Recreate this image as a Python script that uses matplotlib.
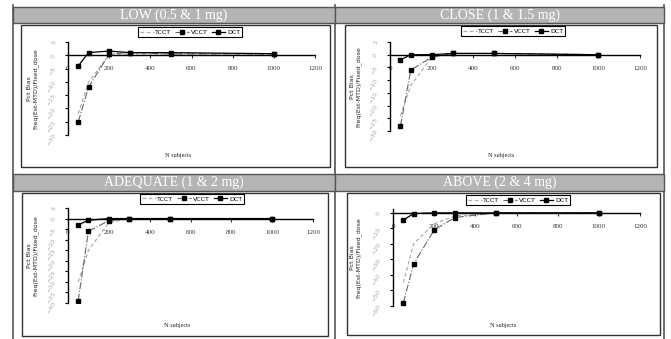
import matplotlib
matplotlib.use("Agg")
import matplotlib.pyplot as plt
from matplotlib.patches import Rectangle
from matplotlib.lines import Line2D

W, H = 671, 339

n_subjects = [50, 100, 200, 300, 500, 1000]
x_ticks = [0, 200, 400, 600, 800, 1000, 1200]

titles = ["LOW (0.5 & 1 mg)", "CLOSE (1 & 1.5 mg)",
          "ADEQUATE (1 & 2 mg)", "ABOVE (2 & 4 mg)"]

tcct = [
    [-22, -10, 0, 0.5, 0.5, 0.5],
    [-24, -12, -1, 0.5, 0.5, 0],
    [-30, -15, -2, 0, 0, 0],
    [-45, -20, -7, -2, 0, 0],
]
vcct = [
    [-25, -12, 0.5, 1, 0.5, 0.5],
    [-28, -6, -1, 0.5, 0.5, 0],
    [-39, -6, -1, 0, 0, 0],
    [-58, -33, -11, -3, 0, 0],
]
dct = [
    [-4, 1, 1.6, 1, 1, 0.6],
    [-2, 0, 0, 0.5, 0.5, 0],
    [-3, -0.8, 0, 0, 0, 0],
    [-4.7, -0.4, 0, 0, 0, 0],
]
y_limits = [(-30, 5), (-30, 5), (-40, 5), (-60, 2.5)]
y_steps = [5, 5, 5, 10]

# pixel boxes: header, chart frame, plot area, legend centre, ylabel x
header_box = [(13, 7, 335, 23), (335, 7, 664, 23), (13, 174, 335, 191), (335, 174, 664, 191)]
frame_box = [(21, 25, 330, 167), (345, 25, 657, 167), (22, 193, 328, 336), (347, 193, 660, 335)]
plot_box = [(68, 42, 315, 135), (390, 42, 640, 131), (68, 208, 313, 303), (393, 209, 640, 306)]
legend_pos = [(190, 32), (513, 31), (192, 199), (518, 200)]
ylabel_x = [33, 356, 33, 356]
xlabel_y = [155, 155, 325, 325]


def fig_rect(b):
    x0, y0, x1, y1 = b
    return [x0 / W, 1 - y1 / H, (x1 - x0) / W, (y1 - y0) / H]


fig = plt.figure(figsize=(W / 100, H / 100), dpi=100)
fig.patch.set_facecolor("white")

# table lines
for x in [13, 335, 664]:
    fig.add_artist(Line2D([x / W, x / W], [1 - 5 / H, 0], color="#555555", lw=1.2, zorder=-2))

for i in range(4):
    hb = header_box[i]
    fig.add_artist(Rectangle((hb[0] / W, 1 - hb[3] / H), (hb[2] - hb[0]) / W,
                             (hb[3] - hb[1]) / H, transform=fig.transFigure,
                             facecolor="#b4b4b4", edgecolor="#555555", lw=1, zorder=-1))
    fig.text((hb[0] + hb[2]) / 2 / W, 1 - (hb[1] + hb[3]) / 2 / H, titles[i],
             color="white", fontsize=10, family="Liberation Serif",
             ha="center", va="center")

    fb = frame_box[i]
    fig.add_artist(Rectangle((fb[0] / W, 1 - fb[3] / H), (fb[2] - fb[0]) / W,
                             (fb[3] - fb[1]) / H, transform=fig.transFigure,
                             facecolor="white", edgecolor="#333333", lw=1, zorder=-1))

    ax = fig.add_axes(fig_rect(plot_box[i]))
    ax.set_zorder(2)
    ax.set_facecolor("none")
    ax.plot(n_subjects, tcct[i], color="#b0b0a0", ls=(0, (3, 2)), lw=0.9, label="TCCT")
    ax.plot(n_subjects, vcct[i], color="#666666", ls="-.", lw=0.8, marker="s",
            ms=2.5, mfc="black", mec="black", label="VCCT")
    ax.plot(n_subjects, dct[i], color="black", ls="-", lw=0.9, marker="s",
            ms=2.5, label="DCT")
    ax.set_xlim(0, 1200)
    ax.set_ylim(*y_limits[i])
    ax.set_xticks(x_ticks)
    lo, hi = y_limits[i]
    st = y_steps[i]
    yt = list(range(int(lo), int(hi) + 1, st))
    ax.set_yticks(yt)
    ax.spines["top"].set_visible(False)
    ax.spines["right"].set_visible(False)
    ax.spines["bottom"].set_position(("data", 0))
    ax.spines["left"].set_position(("data", 0))
    ax.spines["bottom"].set_linewidth(1)
    ax.spines["left"].set_linewidth(1)
    ax.tick_params(axis="x", labelsize=5, length=2, pad=6, colors="#333333")
    ax.tick_params(axis="y", labelsize=4.5, length=2, pad=6, labelcolor="#aaaaaa",
                   labelrotation=60)
    for lab in ax.get_xticklabels():
        lab.set_family("Liberation Serif")

    h, l = ax.get_legend_handles_labels()
    lx, ly = legend_pos[i]
    leg = fig.legend(h, l, loc="center", bbox_to_anchor=(lx / W, 1 - ly / H), ncol=3,
                     fontsize=4.5, frameon=True, fancybox=False, edgecolor="black",
                     handlelength=2.2, handletextpad=0.3, columnspacing=0.6,
                     borderpad=0.3, framealpha=1)
    leg.get_frame().set_linewidth(0.8)
    leg.set_zorder(3)

    pb = plot_box[i]
    fig.text(ylabel_x[i] / W, 1 - (pb[1] + pb[3]) / 2 / H,
             "Pct Bias\nFreq(Est-MTD)/Fixed_dose", rotation=90, fontsize=4.5,
             ha="center", va="center", color="#222222")
    fig.text((pb[0] + pb[2]) / 2 / W - 0.02, 1 - xlabel_y[i] / H, "N subjects",
             fontsize=4.5, ha="center", va="center", color="#222222",
             family="Liberation Serif")

fig.savefig("out.png", dpi=100)
